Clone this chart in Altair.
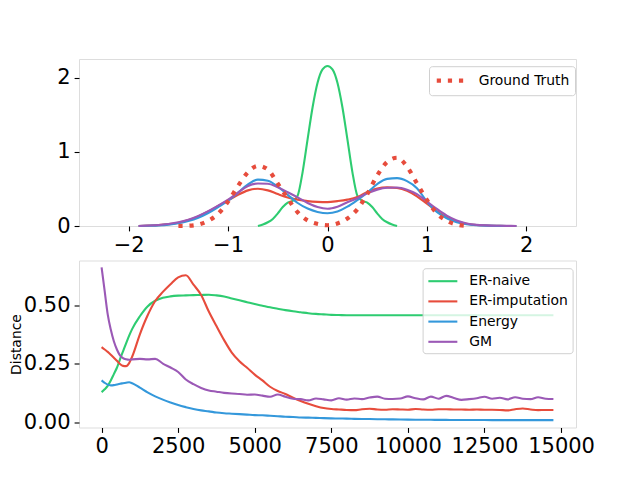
import altair as alt
import pandas as pd

FONT = "DejaVu Sans"
names = ["ER-naive", "ER-imputation", "Energy", "GM"]
colors = ["#2ecc71", "#e74c3c", "#3498db", "#9b59b6"]
gt_color = "#e74c3c"

# ---------------- top panel: densities ----------------
x_grid = [-1.9, -1.8, -1.7, -1.6, -1.5, -1.4, -1.3, -1.2, -1.1, -1.0,
          -0.9, -0.8, -0.7, -0.6, -0.5, -0.4, -0.3, -0.2, -0.1, 0.0,
          0.1, 0.2, 0.3, 0.4, 0.5, 0.6, 0.7, 0.8, 0.9, 1.0,
          1.1, 1.2, 1.3, 1.4, 1.5, 1.6, 1.7, 1.8, 1.9]
dens_imputation = [0.0, 0.005, 0.012, 0.025, 0.045, 0.08, 0.13, 0.195, 0.27, 0.345,
                   0.42, 0.48, 0.502, 0.48, 0.43, 0.385, 0.355, 0.335, 0.325, 0.322,
                   0.335, 0.355, 0.39, 0.46, 0.505, 0.52, 0.512, 0.475, 0.4, 0.3,
                   0.2, 0.115, 0.06, 0.03, 0.014, 0.007, 0.003, 0.001, 0.0]
dens_energy = [0.0, 0.004, 0.009, 0.019, 0.038, 0.068, 0.112, 0.175, 0.255, 0.34,
               0.45, 0.56, 0.625, 0.61, 0.53, 0.42, 0.31, 0.235, 0.19, 0.172,
               0.195, 0.26, 0.35, 0.45, 0.565, 0.635, 0.645, 0.605, 0.51, 0.33,
               0.19, 0.105, 0.052, 0.024, 0.011, 0.005, 0.002, 0.001, 0.0]
dens_gm = [0.0, 0.006, 0.014, 0.028, 0.05, 0.085, 0.135, 0.2, 0.275, 0.355,
           0.45, 0.54, 0.572, 0.57, 0.52, 0.455, 0.385, 0.31, 0.255, 0.232,
           0.26, 0.32, 0.375, 0.44, 0.49, 0.515, 0.518, 0.49, 0.43, 0.33,
           0.23, 0.14, 0.075, 0.035, 0.015, 0.008, 0.004, 0.002, 0.001]

x_naive = [-0.7, -0.65, -0.6, -0.55, -0.5, -0.45, -0.4, -0.35, -0.3, -0.25,
           -0.2, -0.15, -0.1, -0.05, 0.0, 0.05, 0.1, 0.15, 0.2, 0.25,
           0.3, 0.35, 0.4, 0.45, 0.5, 0.55, 0.6, 0.65, 0.7]
dens_naive = [0.0, 0.02, 0.05, 0.095, 0.17, 0.255, 0.315, 0.338, 0.41, 0.73,
              1.17, 1.6, 1.93, 2.11, 2.156, 2.11, 1.93, 1.6, 1.17, 0.73,
              0.41, 0.338, 0.315, 0.255, 0.17, 0.095, 0.05, 0.02, 0.0]

x_truth = [-1.5, -1.4, -1.3, -1.2, -1.1, -1.0, -0.9, -0.8, -0.7, -0.6,
           -0.5, -0.4, -0.3, -0.2, -0.1, 0.0, 0.1, 0.2, 0.3, 0.4,
           0.5, 0.6, 0.7, 0.8, 0.9, 1.0, 1.1, 1.2, 1.3, 1.4]
dens_truth = [0.0, 0.003, 0.02, 0.07, 0.165, 0.33, 0.54, 0.725, 0.81, 0.76,
              0.57, 0.37, 0.185, 0.075, 0.028, 0.01, 0.035, 0.1, 0.225, 0.43,
              0.68, 0.863, 0.92, 0.8, 0.575, 0.35, 0.17, 0.07, 0.02, 0.002]

# ---------------- bottom panel: distance vs iteration ----------------
iters = [0, 100, 200, 300, 400, 500, 600, 700, 800, 900, 1000,
         1250, 1500, 1750, 2000, 2250, 2500, 2750, 3000, 3250, 3500,
         3750, 4000, 4250, 4500, 4750, 5000, 5250, 5500, 5750, 6000,
         6250, 6500, 6750, 7000, 7250, 7500, 7750, 8000, 8250, 8500,
         8750, 9000, 9250, 9500, 9750, 10000, 10250, 10500, 10750, 11000,
         11250, 11500, 11750, 12000, 12250, 12500, 12750, 13000, 13250, 13500,
         13750, 14000, 14250, 14500, 14750]
dist_naive = [0.128, 0.14, 0.155, 0.178, 0.205, 0.232, 0.268, 0.302, 0.336, 0.369, 0.398,
              0.452, 0.494, 0.518, 0.531, 0.537, 0.54, 0.541, 0.542, 0.543, 0.544,
              0.541, 0.536, 0.528, 0.52, 0.512, 0.504, 0.497, 0.49, 0.484, 0.478,
              0.473, 0.469, 0.465, 0.462, 0.46, 0.458, 0.457, 0.456, 0.456, 0.456,
              0.456, 0.456, 0.456, 0.456, 0.456, 0.456, 0.456, 0.456, 0.456, 0.456,
              0.456, 0.456, 0.456, 0.456, 0.456, 0.456, 0.456, 0.456, 0.456, 0.456,
              0.456, 0.456, 0.456, 0.456, 0.456]
dist_imputation = [0.32, 0.31, 0.30, 0.288, 0.275, 0.262, 0.248, 0.24, 0.239, 0.252, 0.28,
                   0.375, 0.455, 0.517, 0.556, 0.589, 0.618, 0.627, 0.587, 0.543, 0.472,
                   0.41, 0.35, 0.297, 0.26, 0.232, 0.203, 0.178, 0.151, 0.133, 0.12,
                   0.104, 0.09, 0.078, 0.068, 0.06, 0.056, 0.054, 0.052, 0.051, 0.055,
                   0.057, 0.054, 0.053, 0.055, 0.054, 0.053, 0.056, 0.054, 0.053, 0.055,
                   0.055, 0.054, 0.054, 0.053, 0.054, 0.053, 0.053, 0.052, 0.05, 0.055,
                   0.058, 0.054, 0.051, 0.052, 0.052]
dist_energy = [0.178, 0.168, 0.16, 0.157, 0.158, 0.161, 0.164, 0.166, 0.168, 0.17, 0.166,
               0.147, 0.127, 0.11, 0.096, 0.084, 0.073, 0.064, 0.056, 0.05, 0.046,
               0.041, 0.038, 0.036, 0.034, 0.032, 0.03, 0.029, 0.027, 0.025, 0.023,
               0.022, 0.02, 0.019, 0.018, 0.017, 0.016, 0.0155, 0.015, 0.014, 0.0135,
               0.013, 0.0125, 0.012, 0.0115, 0.011, 0.0105, 0.0102, 0.01, 0.0098, 0.0096,
               0.0094, 0.0092, 0.009, 0.0089, 0.0088, 0.0087, 0.0086, 0.0086, 0.0085, 0.0085,
               0.0085, 0.0085, 0.0085, 0.0085, 0.0085]
dist_gm = [0.661, 0.56, 0.46, 0.395, 0.345, 0.31, 0.285, 0.273, 0.268, 0.266, 0.268,
           0.27, 0.268, 0.27, 0.25, 0.233, 0.214, 0.182, 0.162, 0.146, 0.135,
           0.13, 0.125, 0.122, 0.12, 0.117, 0.118, 0.113, 0.108, 0.118, 0.108,
           0.1, 0.098, 0.093, 0.101, 0.097, 0.093, 0.102, 0.096, 0.101, 0.098,
           0.105, 0.109, 0.1, 0.099, 0.101, 0.11, 0.102, 0.097, 0.109, 0.1,
           0.112, 0.103, 0.095, 0.098, 0.102, 0.108, 0.1, 0.104, 0.097, 0.106,
           0.1, 0.098, 0.106, 0.1, 0.099]

x_ticks_top = [-2, -1, 0, 1, 2]
y_ticks_top = [0, 1, 2]
x_ticks_bottom = [0, 2500, 5000, 7500, 10000, 12500, 15000]
y_ticks_bottom = [0.0, 0.25, 0.5]

# ---------------- tables ----------------
top_rows = []
for name, xs, ys in [("ER-naive", x_naive, dens_naive),
                     ("ER-imputation", x_grid, dens_imputation),
                     ("Energy", x_grid, dens_energy),
                     ("GM", x_grid, dens_gm)]:
    for i, (a, b) in enumerate(zip(xs, ys)):
        top_rows.append({"x": a, "y": b, "series": name, "order": i})
df_top = pd.DataFrame(top_rows)
df_truth = pd.DataFrame({"x": x_truth, "y": dens_truth, "label": "Ground Truth"})

bottom_rows = []
for name, ys in zip(names, [dist_naive, dist_imputation, dist_energy, dist_gm]):
    for i, (a, b) in enumerate(zip(iters, ys)):
        bottom_rows.append({"iter": a, "dist": b, "series": name, "order": i})
df_bottom = pd.DataFrame(bottom_rows)

# ---------------- styling ----------------
W, H = 497, 167
tick_style = dict(domain=False, grid=False, ticks=True, tickColor="black",
                  tickWidth=1.1, tickSize=4.9, labelFont=FONT, labelFontSize=21,
                  labelColor="black")
LINE_SYMBOL = "M-2,0H2"   # wide, flat legend handle
legend_style = dict(orient="none", title=None, symbolType=LINE_SYMBOL,
                    labelFont=FONT, labelFontSize=13.9, labelColor="black",
                    fillColor="rgba(255,255,255,0.8)", strokeColor="#d0d0d0",
                    cornerRadius=3)

color_models = alt.Color("series:N", scale=alt.Scale(domain=names, range=colors), legend=None)

top_models = alt.Chart(df_top).mark_line(strokeWidth=2.1, interpolate="monotone").encode(
    x=alt.X("x:Q", scale=alt.Scale(domain=[-2.5, 2.5], nice=False, zero=False),
            axis=alt.Axis(values=x_ticks_top, format="d", title=None, labelPadding=3.5, **tick_style)),
    y=alt.Y("y:Q", scale=alt.Scale(domain=[0, 2.25], nice=False),
            axis=alt.Axis(values=y_ticks_top, format="d", title=None, labelPadding=4, **tick_style)),
    color=color_models,
    order="order:Q",
)
top_truth = alt.Chart(df_truth).mark_line(strokeWidth=4.2, strokeDash=[4.2, 6.9], strokeCap="butt",
                                          interpolate="monotone").encode(
    x="x:Q",
    y="y:Q",
    color=alt.Color("label:N", scale=alt.Scale(domain=["Ground Truth"], range=[gt_color]),
                    legend=alt.Legend(legendX=350, legendY=7.2, symbolSize=182, symbolStrokeWidth=4.2,
                                      symbolDash=[4.2, 6.9], symbolOffset=6.75, labelOffset=19.4,
                                      padding=5.5, **legend_style)),
)
top = alt.layer(top_models, top_truth).resolve_scale(color="independent").properties(width=W, height=H)

bottom = alt.Chart(df_bottom).mark_line(strokeWidth=2.1, interpolate="monotone").encode(
    x=alt.X("iter:Q", scale=alt.Scale(domain=[-737.5, 15487.5], nice=False, zero=False),
            axis=alt.Axis(values=x_ticks_bottom, format="d", title=None, labelPadding=3.5, **tick_style)),
    y=alt.Y("dist:Q", scale=alt.Scale(domain=[-0.023, 0.69], nice=False, zero=False),
            axis=alt.Axis(values=y_ticks_bottom, format=".2f", title="Distance",
                          titleFont=FONT, titleFontSize=13.9, titleFontWeight="normal",
                          titleColor="black", titlePadding=0, labelPadding=4, **tick_style)),
    color=alt.Color("series:N", scale=alt.Scale(domain=names, range=colors),
                    legend=alt.Legend(legendX=343.6, legendY=7.7, symbolSize=210, symbolStrokeWidth=2.1,
                                      symbolOffset=7.25, labelOffset=18, rowPadding=4.2,
                                      padding=4.5, **legend_style)),
    order="order:Q",
).properties(width=W, height=H)

chart = alt.vconcat(top, bottom, spacing=3.5).resolve_scale(color="independent").properties(
    padding={"left": 0, "top": 50, "right": 5, "bottom": 5}
).configure_view(stroke="black", strokeWidth=1.1).configure(font=FONT)

chart.save("out.html", embed_options={"renderer": "svg", "actions": False})
